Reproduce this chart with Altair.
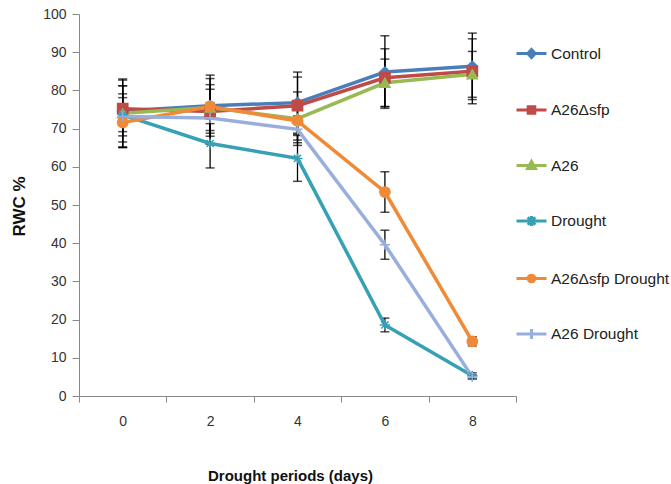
import altair as alt
import pandas as pd

days = ["0", "2", "4", "6", "8"]
series = ["Control", "A26Δsfp", "A26", "Drought", "A26Δsfp Drought", "A26 Drought"]

control = [74.6, 76.0, 76.8, 84.8, 86.3]
a26dsfp = [75.2, 74.5, 76.0, 83.3, 85.0]
a26 = [74.0, 75.5, 72.6, 82.0, 84.2]
drought = [73.6, 66.1, 62.2, 18.6, 5.3]
a26dsfp_drought = [71.6, 75.8, 72.0, 53.4, 14.3]
a26_drought = [73.2, 72.8, 69.8, 39.6, 5.0]

err_control = [8.1, 8.0, 8.0, 9.5, 8.7]
err_a26dsfp = [6.0, 8.6, 7.5, 7.6, 8.5]
err_a26 = [9.0, 6.0, 7.0, 6.2, 6.0]
err_drought = [5.5, 6.4, 6.0, 1.8, 0.8]
err_a26dsfp_drought = [6.5, 4.5, 5.0, 5.3, 1.2]
err_a26_drought = [8.0, 4.0, 3.5, 3.8, 0.5]

colors = ["#4A7EBB", "#BE4B48", "#98B954", "#36A0B4", "#F08A36", "#98AEDC"]

values = [control, a26dsfp, a26, drought, a26dsfp_drought, a26_drought]
errors = [err_control, err_a26dsfp, err_a26, err_drought, err_a26dsfp_drought, err_a26_drought]

rows = []
for s, vals, errs in zip(series, values, errors):
    for d, v, e in zip(days, vals, errs):
        rows.append({"series": s, "day": d, "value": v, "lo": v - e, "hi": v + e})
df = pd.DataFrame(rows)

FONT = "Liberation Sans"

xscale = alt.Scale(type="band", domain=days, paddingInner=0, paddingOuter=0)
xaxis = alt.Axis(title="Drought periods (days)", tickBand="extent", labelAngle=0,
                 labelFont=FONT, labelFontSize=14, labelColor="#333333", labelPadding=12,
                 tickSize=6, tickColor="#888888", domainColor="#888888", grid=False,
                 titleFont=FONT, titleFontSize=15, titleFontWeight="bold", titleColor="#111111",
                 titleX=211, titleY=79, titleBaseline="middle", titleAlign="center")
yscale = alt.Scale(domain=[0, 100], nice=False)
yaxis = alt.Axis(title="RWC %", values=list(range(0, 101, 10)), grid=False,
                 labelFont=FONT, labelFontSize=14, labelColor="#333333", labelPadding=6,
                 tickSize=7, tickColor="#888888", domainColor="#888888",
                 titleFont=FONT, titleFontSize=17, titleFontWeight="bold", titleColor="#111111",
                 titleX=-60, titleY=192, titleBaseline="middle", titleAlign="center",
                 titleAngle=-90)

def X():
    return alt.X("day:O", sort=days, scale=xscale, axis=xaxis)

def Y(field):
    return alt.Y(f"{field}:Q", scale=yscale, axis=yaxis)

cscale = alt.Scale(domain=series, range=colors)

err_rule = alt.Chart(df).mark_rule(color="#000000", strokeWidth=1.3).encode(
    x=X(), y=Y("lo"), y2="hi:Q")
cap_lo = alt.Chart(df).mark_tick(color="#000000", size=9, thickness=1.5).encode(
    x=X(), y=Y("lo"))
cap_hi = alt.Chart(df).mark_tick(color="#000000", size=9, thickness=1.5).encode(
    x=X(), y=Y("hi"))

lines = alt.Chart(df).mark_line(strokeWidth=3.5).encode(
    x=X(), y=Y("value"),
    color=alt.Color("series:N", scale=cscale, legend=None),
    detail="series:N",
    order=alt.Order("day:O"))

asterisk = "M-1,0L1,0M-0.7,-0.7L0.7,0.7M-0.7,0.7L0.7,-0.7M0,-1L0,1"
plus = "M-1,0L1,0M0,-1L0,1"
point_shapes = ["diamond", "square", "triangle-up", asterisk, "circle", plus]

points = alt.Chart(df).mark_point(filled=True, size=105, strokeWidth=1.5, opacity=1).encode(
    x=X(), y=Y("value"),
    fill=alt.Fill("series:N", scale=cscale, legend=None),
    stroke=alt.Stroke("series:N", scale=cscale, legend=None),
    shape=alt.Shape("series:N", scale=alt.Scale(domain=series, range=point_shapes), legend=None))

leg_paths = [
    "M-1,0L1,0M0,-0.27L0.25,0L0,0.27L-0.25,0Z",
    "M-1,0L1,0M-0.22,-0.22L0.22,-0.22L0.22,0.22L-0.22,0.22Z",
    "M-1,0L1,0M0,-0.27L0.26,0.2L-0.26,0.2Z",
    "M-1,0L1,0M-0.25,-0.25L0.25,0.25M-0.25,0.25L0.25,-0.25M0,-0.33L0,0.33",
    "M-1,0L1,0M0.22,0A0.22,0.22,0,1,1,-0.22,0A0.22,0.22,0,1,1,0.22,0Z",
    "M-1,0L1,0M0,-0.33L0,0.33",
]

legend = alt.Legend(title=None, orient="none", legendX=436, legendY=23,
                    symbolSize=900, symbolStrokeWidth=3, rowPadding=29.5,
                    labelFont=FONT, labelFontSize=15.5, labelColor="#222222",
                    labelOffset=3, labelLimit=300)

leg_layer = alt.Chart(df).transform_filter("datum.value < -1000").mark_point(
    filled=True, size=900, strokeWidth=3, opacity=1).encode(
    x=X(), y=Y("value"),
    fill=alt.Fill("series:N", scale=alt.Scale(domain=series, range=colors), legend=legend),
    stroke=alt.Stroke("series:N", scale=alt.Scale(domain=series, range=colors), legend=legend),
    shape=alt.Shape("series:N", scale=alt.Scale(domain=series, range=leg_paths), legend=legend))

chart = alt.layer(err_rule, cap_lo, cap_hi, lines, points, leg_layer).resolve_scale(
    shape="independent", fill="independent", stroke="independent"
).properties(
    width=437, height=382,
    padding={"left": 79, "top": 14, "right": 155, "bottom": 88},
    autosize=alt.AutoSizeParams(type="none"),
    background="#FFFFFF",
).configure_view(stroke=None)

chart.save("out.html", embed_options={"renderer": "svg", "actions": False})
